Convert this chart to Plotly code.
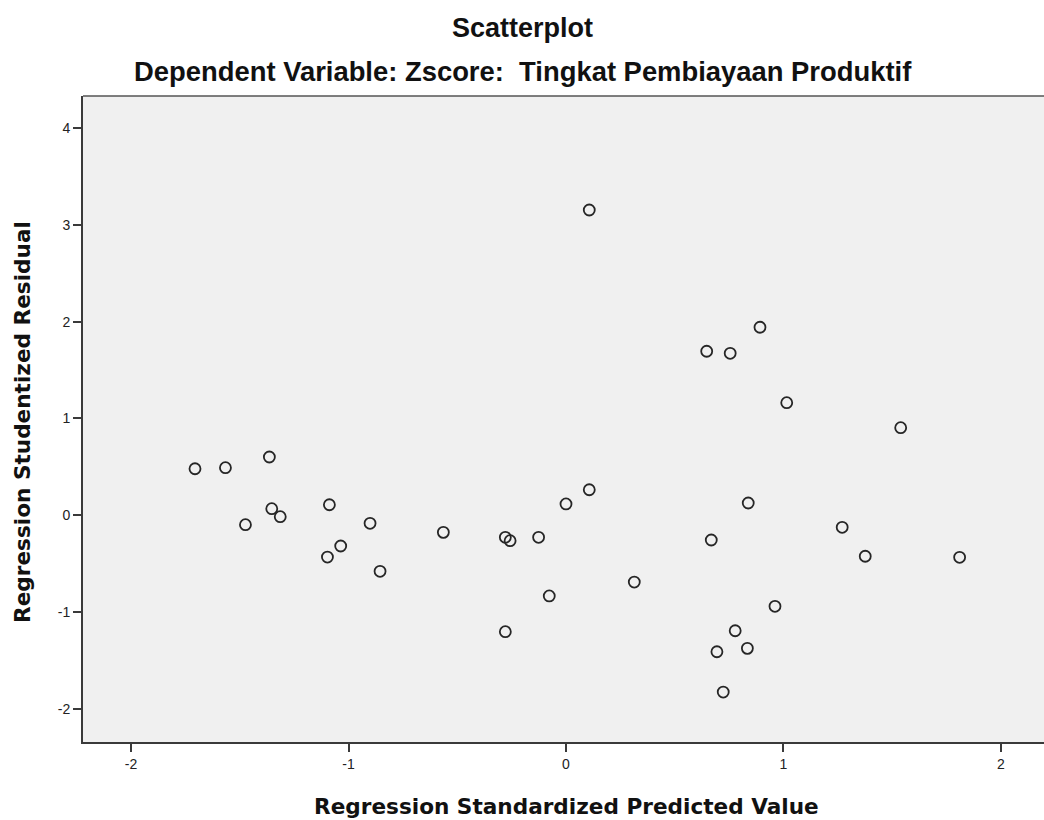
import plotly.graph_objects as go

# Regression Standardized Predicted Value (x) and Regression Studentized Residual (y)
predicted = [-1.706, -1.566, -1.364, -1.353, -1.314, -1.474, -1.088, -0.901, -1.036,
             -1.097, -0.855, -0.564, -0.279, -0.257, -0.126, -0.077, 0.000, 0.107,
             0.107, -0.279, 0.314, 0.647, 0.755, 0.892, 1.015, 1.539, 0.838, 0.668,
             1.270, 1.376, 1.810, 0.961, 0.778, 0.694, 0.834, 0.723]
residual = [0.481, 0.492, 0.602, 0.068, -0.014, -0.097, 0.109, -0.083, -0.317,
            -0.431, -0.578, -0.176, -0.227, -0.262, -0.227, -0.833, 0.117, 0.264,
            3.153, -1.202, -0.689, 1.694, 1.673, 1.942, 1.163, 0.905, 0.127, -0.255,
            -0.124, -0.423, -0.434, -0.940, -1.192, -1.409, -1.374, -1.825]

x_ticks = [-2, -1, 0, 1, 2]
y_ticks = [-2, -1, 0, 1, 2, 3, 4]

title_text = "Scatterplot"
subtitle_text = "Dependent Variable: Zscore:  Tingkat Pembiayaan Produktif"
x_title = "Regression Standardized Predicted Value"
y_title = "Regression Studentized Residual"

fig = go.Figure()
fig.add_trace(go.Scatter(
    x=predicted, y=residual, mode="markers",
    marker=dict(symbol="circle-open", size=11, color="#262626",
                line=dict(width=1.8, color="#262626")),
    hoverinfo="skip", showlegend=False,
))

axis_font = dict(family="Liberation Sans, Arial, sans-serif", size=14, color="#222")
title_font = dict(family="Liberation Sans, Arial, sans-serif", size=27, color="#111")
subtitle_font = dict(family="Liberation Sans, Arial, sans-serif", size=27.4, color="#111")
axtitle_font = dict(family="DejaVu Sans, Verdana, sans-serif", size=21.6, color="#111")

fig.update_layout(
    width=1044, height=820,
    margin=dict(l=83, r=0, t=96, b=78),
    paper_bgcolor="white", plot_bgcolor="#f0f0f0",
    xaxis=dict(range=[-2.221, 2.198], tickvals=x_ticks, ticktext=[str(v) for v in x_ticks],
               showgrid=False, zeroline=False, showline=True, linecolor="#3a3a3a",
               linewidth=2, ticks="outside", ticklen=8, tickwidth=2, tickcolor="#3a3a3a",
               tickfont=axis_font, fixedrange=True),
    yaxis=dict(range=[-2.341, 4.330], tickvals=y_ticks, ticktext=[str(v) for v in y_ticks],
               showgrid=False, zeroline=False, showline=True, linecolor="#3a3a3a",
               linewidth=2, ticks="outside", ticklen=8, tickwidth=2, tickcolor="#3a3a3a",
               tickfont=axis_font, fixedrange=True),
    shapes=[dict(type="line", xref="paper", yref="paper", x0=0, x1=1, y0=1, y1=1,
                 line=dict(color="#555", width=1.5))],
    annotations=[
        dict(text="<b>" + title_text + "</b>", xref="paper", yref="paper",
             x=0.4578, y=1, yshift=68, xanchor="center", yanchor="middle", showarrow=False,
             font=title_font),
        dict(text="<b>" + subtitle_text + "</b>", xref="paper", yref="paper",
             x=0.4578, y=1, yshift=25, xanchor="center", yanchor="middle", showarrow=False,
             font=subtitle_font),
        dict(text="<b>" + x_title + "</b>", xref="paper", yref="paper",
             x=0.5036, y=0, yshift=-64, xanchor="center", yanchor="middle", showarrow=False,
             font=axtitle_font),
        dict(text="<b>" + y_title + "</b>", xref="paper", yref="paper",
             x=0, y=0.4954, xshift=-60, xanchor="center", yanchor="middle", showarrow=False,
             textangle=-90, font=axtitle_font),
    ],
)

fig.write_html(
    "out.html",
    config={"displayModeBar": False},
    post_script="document.body.style.margin='0px';"
                "document.body.style.overflow='hidden';"
                "document.documentElement.style.overflow='hidden';",
)
